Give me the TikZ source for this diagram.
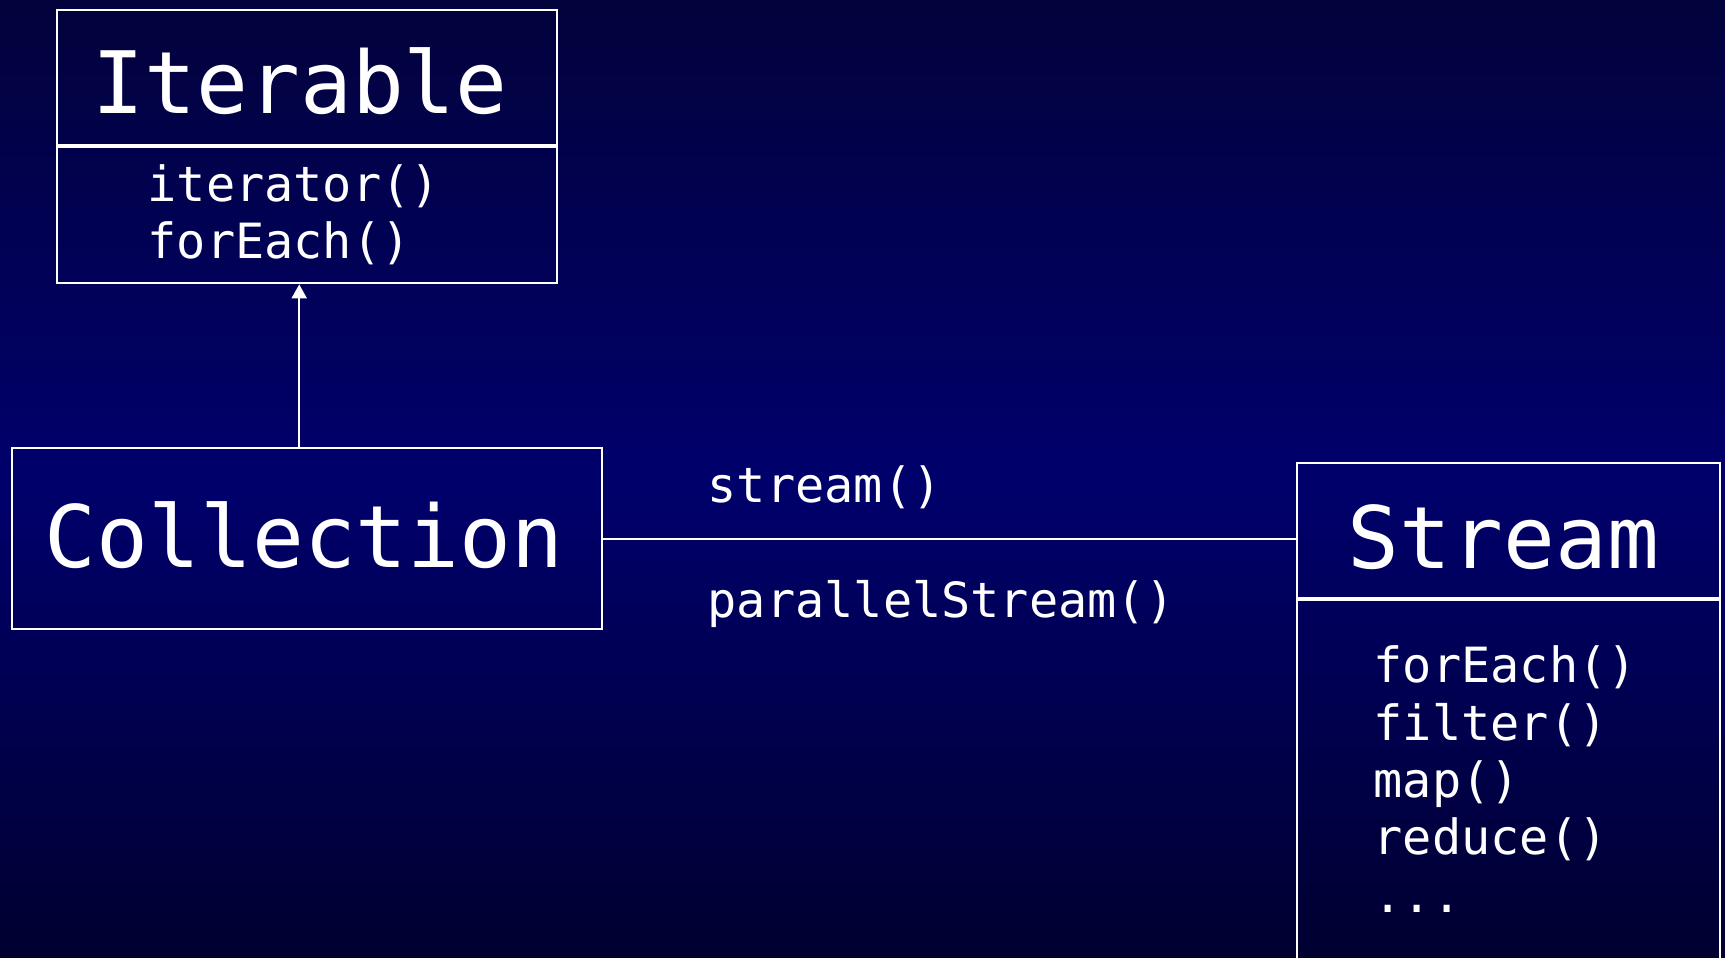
\documentclass[tikz,border=0pt]{standalone}
\usepackage{fontspec}
\setmonofont{DejaVu Sans Mono}
\usetikzlibrary{arrows.meta,calc,positioning}

\definecolor{bgtop}{RGB}{2,2,60}
\definecolor{bgmid}{RGB}{0,0,108}
\definecolor{bgbot}{RGB}{0,0,48}

\begin{document}
\begin{tikzpicture}[x=0.01cm, y=-0.01cm,
                    box/.style    ={rectangle, draw=white, line width=0.6pt, inner sep=0, anchor=north west},
                    title/.style  ={text=white, inner sep=0, anchor=base west, font=\ttfamily\fontsize{24.5}{30}\selectfont},
                    meth/.style   ={text=white, inner sep=0, anchor=base west, align=left, font=\ttfamily\fontsize{13.8}{16.3}\selectfont},
                    assoc/.style  ={-, draw=white, line width=0.6pt},
                    inherit/.style={-{Triangle[width=1.5mm,length=1.4mm]}, draw=white, line width=0.6pt}]

      \useasboundingbox (0,0) rectangle (1725,958);
      \shade[top color=bgtop, bottom color=bgmid] (0,0)   rectangle (1725,480);
      \shade[top color=bgmid, bottom color=bgbot] (0,479) rectangle (1725,958);

      \node[box, minimum width=5cm, minimum height=1.35cm]    at(56, 9)               (iterHead) {};
      \node[box, minimum width=5cm, minimum height=1.36cm]    at(iterHead.south west) (iterBody) {};
      \node[title] at(92, 114)  (iterName) {Iterable};
      % base of a multi-line node = last line
      \node[meth]  at(147, 259) (iterMeth) {iterator()\\forEach()};

      \node[box, minimum width=5.9cm, minimum height=1.81cm]  at(11, 447)             (coll)     {};
      \node[title] at(44, 567)  (collName) {Collection};

      \node[box, minimum width=4.23cm, minimum height=1.35cm] at(1296, 462)           (strHead)  {};
      \node[box, minimum width=4.23cm, minimum height=4cm]    at(strHead.south west)  (strBody)  {};
      \node[title] at(1347, 568) (strName) {Stream};
      \node[meth]  at(1373, 912) (strMeth) {forEach()\\filter()\\map()\\reduce()\\...};

      \node[meth]  at(707, 502) (lblStream) {stream()};
      \node[meth]  at(707, 617) (lblPar)    {parallelStream()};

      \coordinate (foot) at($(coll.north)+(-8, 0)$);
      \path[assoc]   (coll.east) -- (coll.east -| strHead.west);
      \path[inherit] (foot)      -- (foot |- iterBody.south);
    \end{tikzpicture}
\end{document}
